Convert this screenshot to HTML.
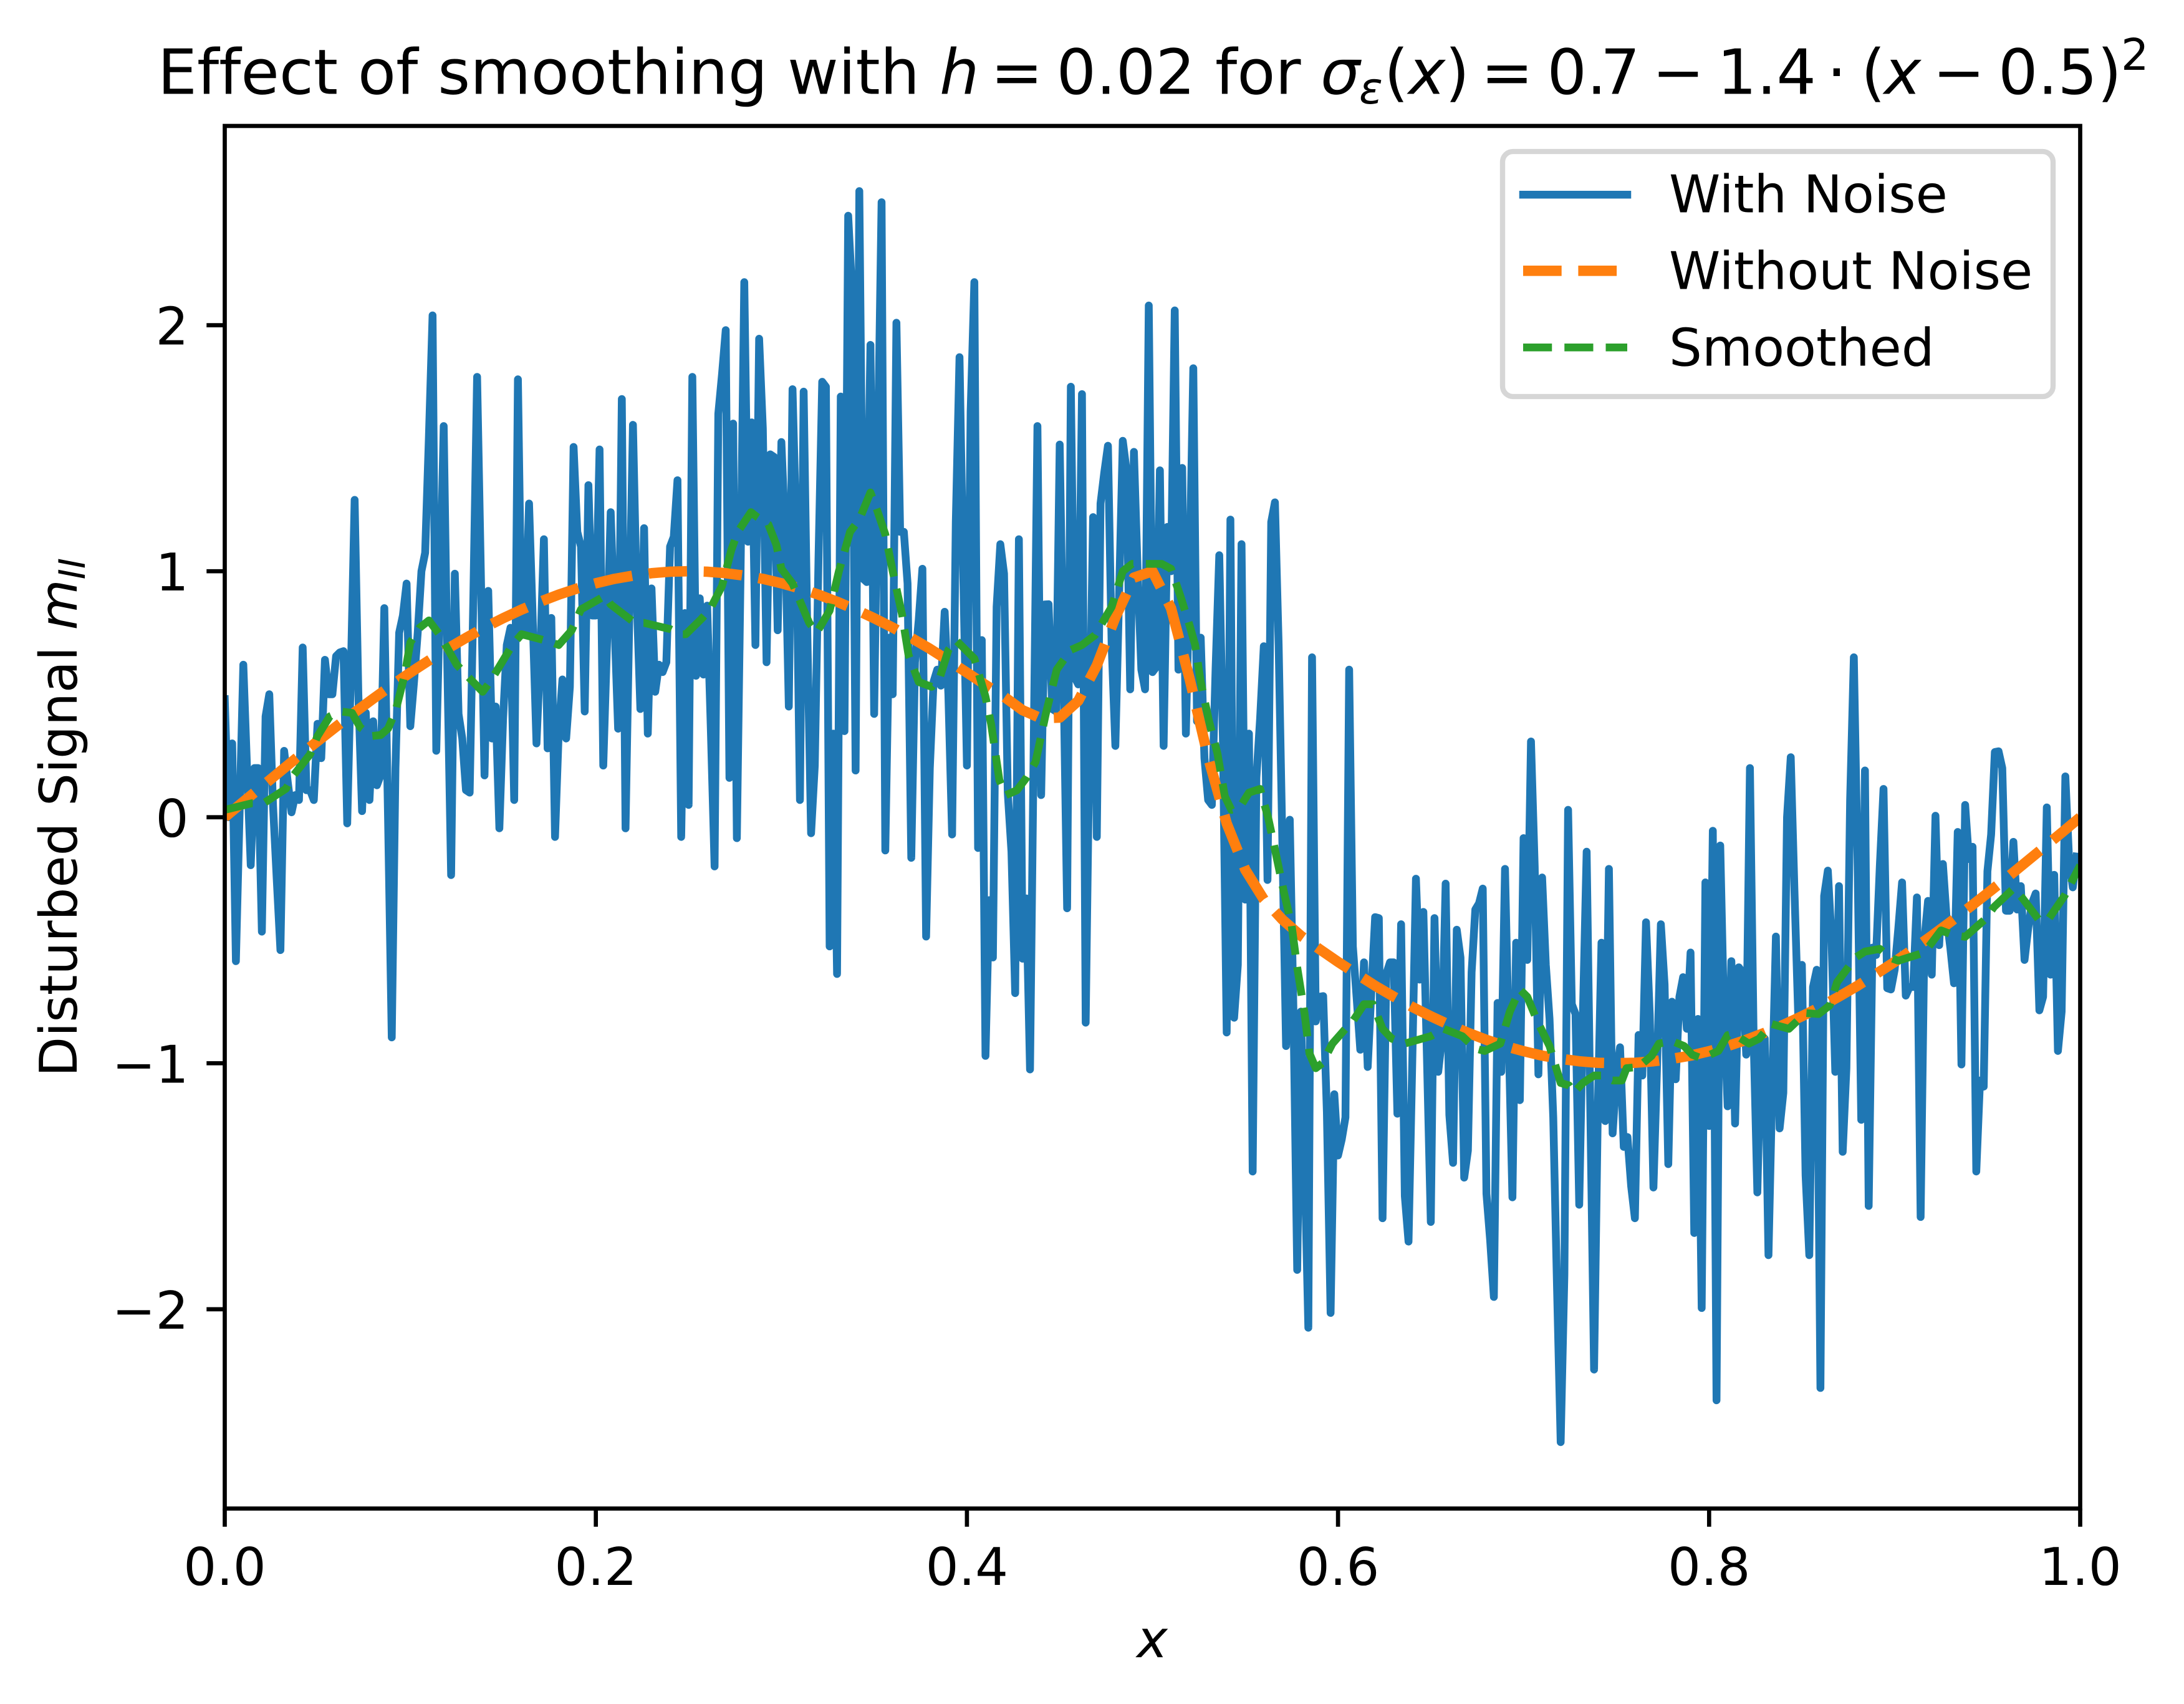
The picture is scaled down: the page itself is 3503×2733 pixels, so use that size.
<!DOCTYPE html>
<html lang="en">
<head>
<meta charset="utf-8">
<title>Effect of smoothing</title>
<style>
html,body{margin:0;padding:0;background:#fff;}
svg{display:block;}
text{font-family:"DejaVu Sans","Liberation Sans",sans-serif;fill:#000;text-rendering:geometricPrecision;font-variant-ligatures:none;}
.it{font-style:italic;}
</style>
</head>
<body>
<svg id="chart" xmlns="http://www.w3.org/2000/svg" width="3503" height="2733" viewBox="0 0 3503 2733">
<rect x="0" y="0" width="3503" height="2733" fill="#ffffff"/>
<defs><clipPath id="plot-clip"><rect x="360.5" y="202" width="2976" height="2217.5"/></clipPath></defs>
<g id="series" clip-path="url(#plot-clip)"></g>
<g id="spines">
<rect x="360.5" y="202" width="2976" height="2217.5" fill="none" stroke="#000" stroke-width="6.67" stroke-linejoin="miter"/>
</g>
<g id="ticks"></g>

<text font-size="100" y="150.7"><tspan x="252.8">Effect of smoothing with</tspan><tspan x="1507" class="it">h</tspan><tspan x="1589">=</tspan><tspan x="1694.5">0.02</tspan><tspan x="1949">for</tspan><tspan x="2118" class="it">σ</tspan><tspan x="2180" y="166" class="it" font-size="70">ε</tspan><tspan x="2220" y="150.7">(</tspan><tspan x="2259" class="it">x</tspan><tspan x="2318">)</tspan><tspan x="2375.4">=</tspan><tspan x="2481.4">0.</tspan><tspan x="2567">7</tspan><tspan x="2650">−</tspan><tspan x="2754">1.4</tspan><tspan x="2930">⋅</tspan><tspan x="2985">(</tspan><tspan x="3022" class="it">x</tspan><tspan x="3100">−</tspan><tspan x="3205">0.5</tspan><tspan x="3364">)</tspan><tspan x="3402" y="112" font-size="70">2</tspan></text>

<text class="it" font-size="83.33" x="1848" y="2658" text-anchor="middle">x</text>
<text font-size="83.33" transform="translate(123,1727) rotate(-90)"><tspan>Disturbed Signal </tspan><tspan class="it">m</tspan><tspan class="it" font-size="58.33" dy="13">II</tspan></text>

<g>
<rect x="2410" y="243" width="883" height="393" rx="16.7" ry="16.7" fill="#ffffff" fill-opacity="0.8" stroke="#cccccc" stroke-opacity="0.8" stroke-width="8.33"/>
<line x1="2443" y1="312.3" x2="2610" y2="312.3" stroke="#1f77b4" stroke-width="12.5" stroke-linecap="square"/>
<text font-size="83.33" x="2677" y="340.7">With Noise</text>
<line x1="2443" y1="434.3" x2="2610" y2="434.3" stroke="#ff7f0e" stroke-width="16.67" stroke-dasharray="61.7 26.7"/>
<text font-size="83.33" x="2677" y="463.7">Without Noise</text>
<line x1="2443" y1="557.3" x2="2610" y2="557.3" stroke="#2ca02c" stroke-width="12.5" stroke-dasharray="46.25 20"/>
<text font-size="83.33" x="2677" y="586.7">Smoothed</text>
</g>
</svg>

<script>
const xTickValues = [0.0, 0.2, 0.4, 0.6, 0.8, 1.0];
const xTickLabels = ["0.0", "0.2", "0.4", "0.6", "0.8", "1.0"];
const yTickValues = [-2, -1, 0, 1, 2];
const yTickLabels = ["−2", "−1", "0", "1", "2"];

const noisyValues = [
.48,0,.30,-.585,.02,.62,.2,-.195,.2,.2,
-.465,.41,.50,.05,-.25,-.54,.27,.14,.02,.09,
.07,.69,.11,.11,.07,.38,.24,.64,.50,.50,
.655,.67,.675,-.025,.6,1.29,.5,.025,.425,.07,
.39,.13,.17,.85,0,-.895,.2,.75,.82,.95,
.37,.55,.75,1.0,1.075,1.54,2.04,.27,.9,1.59,
.6,-.235,.99,.42,.32,.11,.10,.9,1.79,1.0,
.17,.92,.32,.45,-.045,.4,.7,.77,.07,1.78,
.74,.75,1.275,.8,.30,.65,1.13,.28,.81,-.08,
.35,.56,.32,.53,1.505,1.16,1.1,.43,1.35,.82,
.82,1.495,.21,.7,1.24,.8,.36,1.70,-.045,.8,
1.595,.9,.44,1.175,.34,.93,.51,.62,.59,.63,
1.10,1.14,1.37,-.08,.83,.05,1.79,.575,.89,.58,
.86,.35,-.20,1.64,1.8,1.98,.16,1.6,-.085,1.0,
2.175,1.12,1.605,.70,1.945,1.58,.63,1.475,1.465,.76,
1.525,1.16,.45,1.74,1.16,.07,1.73,.74,-.065,.21,
1.05,1.77,1.75,-.525,.34,-.637,1.71,.35,2.445,2.15,
.19,2.545,.97,.956,1.92,.42,1.5,2.50,-.135,.73,
.50,2.01,1.16,1.16,.95,-.165,.63,.8,1.01,-.485,
.2,.55,.6,.535,.835,.5,-.07,1.2,1.87,1.0,
.21,1.65,2.175,-.125,.72,-.97,-.337,-.57,.855,1.11,
.99,.1,-.14,-.715,1.13,-.575,-.33,-1.025,.3,1.59,
.09,.865,.866,.44,.43,1.515,.6,-.37,1.75,.57,
.54,1.72,-.835,.3,1.22,-.08,1.275,1.4,1.51,.7,
.29,.9,1.53,1.41,.52,1.485,1.0,.6,.52,2.08,
.59,.61,1.41,.29,1.18,1.0,2.06,.60,1.42,.34,
1.0,1.825,.39,.73,.24,.07,.05,.6,1.065,.3,
-.875,1.21,-.815,-.6,1.11,-.335,.34,-1.44,.16,.4,
.695,-.255,1.2,1.28,.7,-.1,-.93,-.01,-.8,-1.84,
-.79,-1.4,-2.075,.65,-.83,-.73,-.727,-1.2,-2.015,-1.126,
-1.375,-1.31,-1.22,.60,-.525,-.73,-.945,-.59,-1.015,-.7,
-.406,-.41,-1.63,-.637,-.59,-.59,-1.205,-.435,-1.54,-1.725,
-1,-.25,-.66,-.385,-1.0,-1.645,-.41,-1.035,-.9,-.27,
-1.21,-1.405,-.457,-.57,-1.465,-1.355,-.63,-.375,-.35,-.29,
-1.53,-1.72,-1.95,-.755,-1.035,-.21,-.9,-1.545,-.51,-1.15,
-.085,-.58,.308,-.2,-1.045,-.245,-.6,-.82,-1.22,-1.9,
-2.54,-1.86,.03,-.76,-.80,-1.575,-.8,-.14,-1.2,-2.245,
-1.2,-.51,-1.235,-.21,-1.285,-1.05,-.935,-1.34,-1.3,-1.5,
-1.63,-.885,-1.05,-.427,-.8,-1.505,-1.0,-.435,-.68,-1.41,
-.75,-1.065,-.73,-.65,-.86,-.55,-1.69,-.82,-1.995,-.265,
-1.255,-.055,-2.37,-.115,-.8,-1.175,-.585,-1.245,-.61,-.63,
-.965,.20,-.9,-1.525,-.9,-.9,-1.78,-1.1,-.485,-1.265,
-1.12,0,.244,-.3,-.8,-.6,-1.456,-1.78,-.69,-.62,
-2.32,-.32,-.217,-.5,-1.035,-.28,-1.36,-1.02,.07,.65,
-.17,-1.23,.19,-1.58,-.53,-.56,-.2,.115,-.695,-.7,
-.62,-.45,-.265,-.725,-.69,-.69,-.326,-1.625,-.5,-.34,
-.64,.006,-.52,-.19,-.41,-.53,-.675,-.06,-1.005,.05,
-.17,-.12,-1.44,-1.07,-1.095,-.22,-.07,.265,.268,.2,
-.38,-.38,-.10,-.375,-.28,-.58,-.45,-.35,-.31,-.785,
-.73,.04,-.64,-.234,-.95,-.79,.166,-.17,-.285,-.16
];

const trueValues = [
0,.063,.125,.187,.249,.309,.368,.426,.482,.536,
.588,.637,.685,.729,.771,.809,.844,.876,.905,.930,
.951,.969,.982,.992,.998,1.0,.998,.992,.982,.969,
.951,.930,.905,.876,.844,.809,.771,.729,.685,.637,
.588,.538,.49,.435,.402,.405,.473,.617,.813,.974,
1.0,.85,.563,.243,-.025,-.213,-.334,-.416,-.482,-.536,
-.588,-.637,-.685,-.729,-.771,-.809,-.844,-.876,-.905,-.93,
-.951,-.969,-.982,-.992,-.998,-1,-.998,-.992,-.982,-.969,
-.951,-.93,-.905,-.876,-.844,-.809,-.771,-.729,-.685,-.637,
-.588,-.536,-.482,-.426,-.368,-.309,-.249,-.187,-.125,-.063,0
];

const smoothedX = [
0,.0146,.021,.033,.037,.046,.05,.0566,.0626,.0686,.073,.079,.084,.088,.092,.097,.10,.105,.11,.116,.119,.125,.13,.139,.143,.147,.155,.16,.175,.18,.187,.192,.205,.208,.221,.226,.24,.246,.2485,.257,.2615,.268,.273,.2765,.2836,.287,.293,.2973,.30,.306,.315,.319,.326,.331,.337,.342,.348,.3515,.356,.36,.365,.3685,.374,.381,.3855,.39,.394,.404,.41,.413,.4175,.421,.427,.432,.437,.4425,.4484,.456,.462,.469,.478,.484,.489,.496,.505,.51,.515,.52,.523,.526,.5305,.535,.539,.5425,.547,.552,.558,.5623,.5657,.571,.575,.578,.582,.5846,.588,.5915,.597,.604,.607,.614,.6188,.624,.629,.636,.65,.657,.667,.674,.679,.6875,.6926,.698,.702,.7075,.714,.72,.7245,.727,.732,.738,.742,.748,.753,.7555,.762,.769,.773,.78,.7865,.791,.796,.802,.805,.81,.813,.8215,.827,.8335,.843,.852,.859,.865,.869,.879,.884,.892,.897,.902,.916,.92,.925,.932,.938,.949,.9535,.964,.969,.978,.983,.9915,1
];
const smoothedValues = [
.03,.057,.057,.116,.17,.256,.33,.41,.43,.424,.365,.33,.334,.36,.43,.58,.71,.77,.80,.74,.70,.62,.58,.51,.55,.6,.70,.744,.714,.70,.76,.845,.90,.865,.79,.79,.765,.744,.744,.807,.845,.94,1.086,1.16,1.24,1.22,1.19,1.107,1.01,.95,.79,.75,.84,1.0,1.16,1.21,1.32,1.25,1.15,1.0,.825,.66,.55,.53,.57,.68,.72,.645,.49,.38,.15,.09,.11,.16,.225,.42,.60,.68,.70,.74,.855,1.0,1.03,1.03,1.03,1.01,.90,.78,.70,.55,.39,.26,.085,.03,.04,.10,.115,0,-.12,-.31,-.44,-.61,-.80,-.96,-1.02,-1.0,-.92,-.86,-.84,-.76,-.76,-.86,-.90,-.92,-.89,-.86,-.89,-.94,-.95,-.92,-.79,-.70,-.73,-.83,-.93,-1.08,-1.09,-1.12,-1.08,-1.05,-1.05,-1.07,-1.07,-1.02,-1.015,-.97,-.92,-.91,-.93,-.966,-.98,-.96,-.95,-.886,-.88,-.92,-.90,-.84,-.86,-.796,-.80,-.765,-.67,-.57,-.546,-.535,-.57,-.583,-.55,-.51,-.46,-.48,-.486,-.413,-.365,-.29,-.33,-.42,-.413,-.32,-.195
];

const SVG_NS = "http://www.w3.org/2000/svg";
const plotLeft = 360.5, plotRight = 3336.5, plotTop = 202, plotBottom = 2419.5;
const xMin = 0, xMax = 1, yMin = -2.81, yMax = 2.81;

function xScale(v) { return plotLeft + (v - xMin) / (xMax - xMin) * (plotRight - plotLeft); }
function yScale(v) { return plotBottom - (v - yMin) / (yMax - yMin) * (plotBottom - plotTop); }

function pathFrom(xs, ys) {
  let d = "";
  for (let i = 0; i < ys.length; i++) {
    d += (i ? "L" : "M") + xScale(xs[i]).toFixed(2) + " " + yScale(ys[i]).toFixed(2);
  }
  return d;
}

const seriesGroup = document.getElementById("series");
const noisyX = noisyValues.map(function (_, i) { return i / noisyValues.length; });
const trueX = trueValues.map(function (_, i) { return i / (trueValues.length - 1); });

const noisyLine = document.createElementNS(SVG_NS, "path");
noisyLine.setAttribute("d", pathFrom(noisyX, noisyValues));
noisyLine.setAttribute("fill", "none");
noisyLine.setAttribute("stroke", "#1f77b4");
noisyLine.setAttribute("stroke-width", "12.5");
noisyLine.setAttribute("stroke-linejoin", "round");
noisyLine.setAttribute("stroke-linecap", "square");


seriesGroup.appendChild(noisyLine);

const trueLine = document.createElementNS(SVG_NS, "path");
trueLine.setAttribute("d", pathFrom(trueX, trueValues));
trueLine.setAttribute("fill", "none");
trueLine.setAttribute("stroke", "#ff7f0e");
trueLine.setAttribute("stroke-width", "16.67");
trueLine.setAttribute("stroke-dasharray", "61.7 26.7");
trueLine.setAttribute("stroke-linejoin", "round");


seriesGroup.appendChild(trueLine);

const smoothLine = document.createElementNS(SVG_NS, "path");
smoothLine.setAttribute("d", pathFrom(smoothedX, smoothedValues));
smoothLine.setAttribute("fill", "none");
smoothLine.setAttribute("stroke", "#2ca02c");
smoothLine.setAttribute("stroke-width", "12.5");
smoothLine.setAttribute("stroke-dasharray", "46.25 20");
smoothLine.setAttribute("stroke-linejoin", "round");


seriesGroup.appendChild(smoothLine);

const ticksGroup = document.getElementById("ticks");

xTickValues.forEach(function (v, i) {
  const px = xScale(v);
  const mark = document.createElementNS(SVG_NS, "line");
  mark.setAttribute("x1", px);
  mark.setAttribute("x2", px);
  mark.setAttribute("y1", plotBottom);
  mark.setAttribute("y2", plotBottom + 29.2);
  mark.setAttribute("stroke", "#000");
  mark.setAttribute("stroke-width", "6.67");
  
  
  ticksGroup.appendChild(mark);
  const label = document.createElementNS(SVG_NS, "text");
  label.setAttribute("x", px);
  label.setAttribute("y", 2542);
  label.setAttribute("font-size", "83.33");
  label.setAttribute("text-anchor", "middle");
  label.textContent = xTickLabels[i];
  
  
  ticksGroup.appendChild(label);
});

yTickValues.forEach(function (v, i) {
  const py = yScale(v);
  const mark = document.createElementNS(SVG_NS, "line");
  mark.setAttribute("x1", plotLeft - 29.2);
  mark.setAttribute("x2", plotLeft);
  mark.setAttribute("y1", py);
  mark.setAttribute("y2", py);
  mark.setAttribute("stroke", "#000");
  mark.setAttribute("stroke-width", "6.67");
  
  
  ticksGroup.appendChild(mark);
  const label = document.createElementNS(SVG_NS, "text");
  label.setAttribute("x", 302.5);
  label.setAttribute("y", py + 31);
  label.setAttribute("font-size", "83.33");
  label.setAttribute("text-anchor", "end");
  label.textContent = yTickLabels[i];
  
  
  ticksGroup.appendChild(label);
});
</script>
</body>
</html>
